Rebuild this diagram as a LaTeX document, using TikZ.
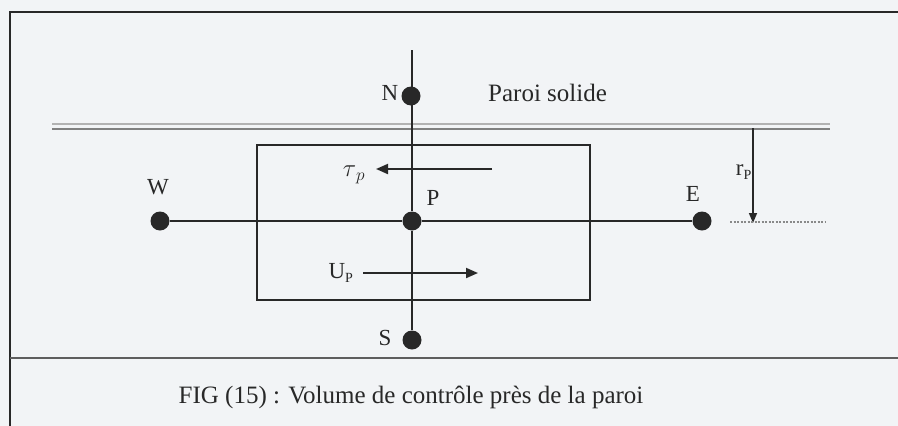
\documentclass[tikz,border=0pt]{standalone}
\usepackage{fontspec}
\setmainfont{Liberation Serif}
\usetikzlibrary{arrows.meta}
\definecolor{bg}{RGB}{242,244,246}
\definecolor{ink}{RGB}{40,40,40}
\begin{document}
\begin{tikzpicture}[x=1pt,y=-1pt,
  dot/.style={circle,fill=ink,inner sep=0pt,minimum size=19pt},
  lbl/.style={inner sep=0pt,text=ink,font=\fontsize{23}{27}\selectfont},
  ln/.style={draw=ink,line width=1.9pt},
  arr/.style={ln,-{Triangle[length=12pt,width=10pt]}}]
\fill[bg] (0,0) rectangle (898,426);
\useasboundingbox (0,0) rectangle (898,426);
% frame
\draw[ink,line width=2pt] (10,426) -- (10,12) -- (898,12);
\draw[ink!75,line width=1.8pt] (10,358) -- (898,358);
% wall
\draw[black!30,line width=1.6pt] (52,124) -- (830,124);
\draw[black!50,line width=2.2pt] (52,129) -- (830,129);
% control volume
\draw[ln] (257,145) rectangle (590,300);
% nodes
\node[dot] (N) at (411,96) {};
\node[dot] (S) at (412,340) {};
\node[dot] (P) at (412,221) {};
\node[dot] (W) at (160,221) {};
\node[dot] (E) at (702,221) {};
\coordinate (Ntop) at (412,50);
\draw[ln] (Ntop) -- (P);
\draw[ln] (P) -- (S);
\draw[ln] (W) -- (P);
\draw[ln] (P) -- (E);
% labels
\node[lbl] (lN) at (390,93) {N};
\node[lbl] (lS) at (385,338) {S};
\node[lbl] (lP) at (433,198) {P};
\node[lbl] (lW) at (158,187) {W};
\node[lbl] (lE) at (693,194) {E};
\node[lbl,anchor=west,font=\fontsize{25}{29}\selectfont] (wall) at (488,93) {Paroi solide};
% tau arrow
\coordinate (t1) at (492,169);
\coordinate (t2) at (376,169);
\draw[arr] (t1) -- (t2);
\node[lbl] (tau) at (354,175) {$\tau_{\,p}$};
% U arrow
\coordinate (u1) at (363,273);
\coordinate (u2) at (478,273);
\draw[arr] (u1) -- (u2);
\node[lbl] (U) at (341,273) {U\textsubscript{\fontsize{14}{15}\selectfont P}};
% r_P
\coordinate (r1) at (753,128);
\coordinate (r2) at (753,223);
\draw[ln,line width=1.5pt,-{Triangle[length=10pt,width=8pt]}] (r1) -- (r2);
\coordinate (d1) at (730,222);
\coordinate (d2) at (825,222);
\draw[ink!55,line width=1.2pt,dash pattern=on 2pt off 1.5pt] (d1) -- (d2);
\node[lbl,anchor=east] (r) at (752,172) {r\textsubscript{\fontsize{14}{15}\selectfont P}};
% caption
\node[lbl,font=\fontsize{25}{29}\selectfont] (cap) at (411,397) {FIG (15) : Volume de contrôle près de la paroi};
\end{tikzpicture}
\end{document}
